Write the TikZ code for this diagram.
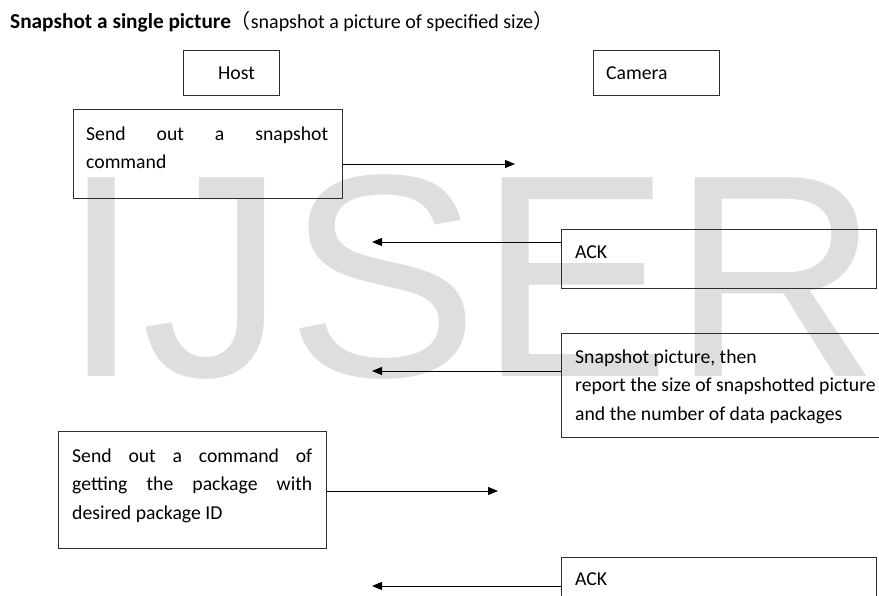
\documentclass[tikz,border=0pt]{standalone}
\usepackage{fontspec}
\setmainfont{Carlito}
\newfontfamily\wmfont{Liberation Sans}
\newfontfamily\cjkfont{Noto Sans CJK SC}
\usetikzlibrary{arrows.meta}
\definecolor{wm}{RGB}{222,222,222}
\definecolor{bord}{RGB}{45,45,45}
\newcommand\fillline[2]{\leavevmode\hbox to #1{#2}}
\begin{document}
\begin{tikzpicture}[x=1pt,y=-1pt,
  box/.style={draw=bord,line width=1.2pt,inner sep=0pt,anchor=north west},
  txt/.style={inner sep=0pt,anchor=base west,font=\fontsize{19.7}{28.5}\selectfont,align=flush left},
  msg/.style={-{Triangle[length=10pt,width=8pt]},line width=1pt,draw=black}]
\useasboundingbox (0,0) rectangle (879,595);
% watermark
\node[anchor=base west,inner sep=0pt,text=wm,font=\wmfont\fontsize{289}{289}\selectfont] (wm) at (61,376) {IJSER};
% title
\node[anchor=base west,inner sep=0pt,font=\fontsize{20}{24}\selectfont] (title) at (10,28)
  {{\fontsize{21.3}{24}\selectfont\bfseries Snapshot a single picture}{\cjkfont （}snapshot a picture of specified size{\cjkfont ）}};
% header boxes
\node[box,minimum width=96pt,minimum height=45pt] (host) at (183,50) {};
\node[txt] (hostt) at (218,79) {Host};
\node[box,minimum width=126pt,minimum height=45pt] (cam) at (593,50) {};
\node[txt] (camt) at (606,79) {Camera};
% message boxes
\node[box,minimum width=269pt,minimum height=89pt] (b1) at (73,109) {};
\node[txt,text width=242pt] (b1t) at (86,140) {\fillline{242pt}{Send\hfill out\hfill a\hfill snapshot}\\command};
\node[box,minimum width=315pt,minimum height=59pt] (ack1) at (561,229) {};
\node[txt] (ack1t) at (575,258) {ACK};
\node[box,minimum width=330pt,minimum height=104pt] (snap) at (561,333) {};
\node[txt,text width=360pt] (snapt) at (575,363) {Snapshot picture, then\\report the size of snapshotted picture\\and the number of data packages};
\node[box,minimum width=268pt,minimum height=117pt] (b4) at (58,431) {};
\node[txt,text width=240pt] (b4t) at (72,462) {\fillline{240pt}{Send\hfill out\hfill a\hfill command\hfill of}\\\fillline{240pt}{getting\hfill the\hfill package\hfill with}\\desired package ID};
\node[box,minimum width=315pt,minimum height=80pt] (ack2) at (561,557) {};
\node[txt] (ack2t) at (575,585) {ACK};
% arrows
\coordinate (e1) at (515,164);
\coordinate (e2) at (372,242);
\coordinate (e3) at (372,371);
\coordinate (e4) at (498,491);
\coordinate (e5) at (372,586);
\draw[msg] (b1.east |- e1) -- (e1);
\draw[msg] (ack1.west |- e2) -- (e2);
\draw[msg] (snap.west |- e3) -- (e3);
\draw[msg] (b4.east |- e4) -- (e4);
\draw[msg] (ack2.west |- e5) -- (e5);
\end{tikzpicture}
\end{document}
